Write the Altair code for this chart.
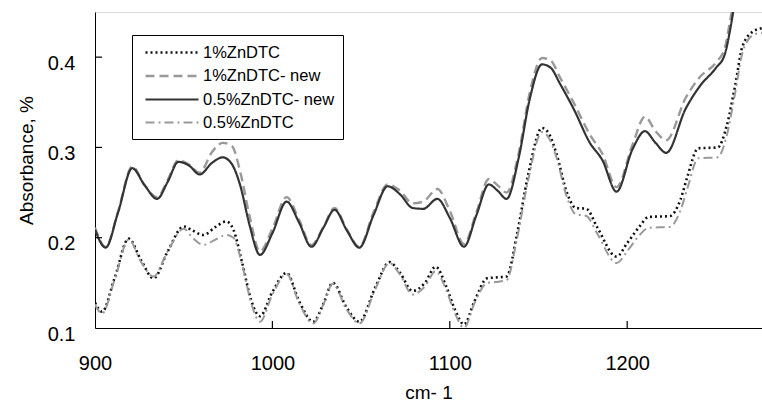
import altair as alt
import pandas as pd

# Upper pair (new samples)
UX = [900, 906, 913, 921, 928, 935, 941, 947, 953, 959, 966, 972, 977, 982, 987, 993,
      1000, 1008, 1015, 1022, 1029, 1035, 1042, 1049, 1057, 1065, 1072, 1079, 1085, 1093,
      1100, 1108, 1115, 1122, 1127, 1132, 1139, 1145, 1152, 1157, 1162, 1170, 1179, 1186,
      1194, 1203, 1210, 1216, 1222, 1233, 1241, 1250, 1255, 1258, 1262]
Y_05_NEW = [0.209, 0.189, 0.228, 0.277, 0.258, 0.243, 0.262, 0.284, 0.280, 0.270, 0.283, 0.289,
            0.282, 0.257, 0.215, 0.181, 0.205, 0.240, 0.217, 0.190, 0.212, 0.231, 0.208, 0.189,
            0.225, 0.257, 0.248, 0.233, 0.232, 0.243, 0.222, 0.190, 0.225, 0.259, 0.252, 0.243,
            0.290, 0.353, 0.392, 0.388, 0.371, 0.342, 0.305, 0.286, 0.251, 0.298, 0.318, 0.305,
            0.294, 0.343, 0.368, 0.388, 0.403, 0.430, 0.480]
Y_1_NEW = [0.211, 0.190, 0.229, 0.279, 0.258, 0.245, 0.264, 0.286, 0.281, 0.272, 0.295, 0.305,
           0.302, 0.272, 0.225, 0.185, 0.210, 0.245, 0.220, 0.192, 0.213, 0.233, 0.209, 0.190,
           0.228, 0.259, 0.252, 0.238, 0.240, 0.254, 0.230, 0.193, 0.228, 0.265, 0.258, 0.250,
           0.295, 0.360, 0.399, 0.396, 0.378, 0.349, 0.314, 0.293, 0.256, 0.303, 0.334, 0.318,
           0.308, 0.355, 0.378, 0.394, 0.410, 0.440, 0.485]

# Lower pair (original samples)
LX = [900, 904, 911, 919, 926, 933, 941, 950, 955, 961, 968, 974, 978, 983, 988, 993,
      1000, 1008, 1015, 1023, 1029, 1034, 1042, 1049, 1058, 1066, 1072, 1079, 1086, 1092,
      1098, 1103, 1108, 1114, 1121, 1126, 1132, 1138, 1144, 1152, 1156, 1160, 1166, 1171,
      1177, 1183, 1194, 1200, 1207, 1212, 1224, 1230, 1234, 1240, 1251, 1256, 1261, 1265,
      1271, 1276]
Y_1 = [0.128, 0.118, 0.155, 0.199, 0.175, 0.155, 0.185, 0.2125, 0.208, 0.203, 0.212, 0.218,
       0.209, 0.172, 0.131, 0.113, 0.140, 0.161, 0.130, 0.107, 0.128, 0.150, 0.122, 0.107,
       0.145, 0.173, 0.161, 0.141, 0.150, 0.168, 0.146, 0.120, 0.104, 0.130, 0.155, 0.156,
       0.157, 0.205, 0.268, 0.3215, 0.315, 0.294, 0.250, 0.233, 0.232, 0.212, 0.179, 0.194,
       0.2125, 0.223, 0.224, 0.242, 0.268, 0.299, 0.300, 0.323, 0.370, 0.412, 0.4285, 0.432]
Y_05 = [0.126, 0.116, 0.153, 0.198, 0.173, 0.157, 0.185, 0.210, 0.200, 0.192, 0.198, 0.203,
        0.200, 0.170, 0.128, 0.107, 0.137, 0.160, 0.128, 0.105, 0.127, 0.149, 0.120, 0.105,
        0.143, 0.172, 0.159, 0.137, 0.146, 0.163, 0.142, 0.116, 0.100, 0.128, 0.150, 0.151,
        0.153, 0.200, 0.262, 0.317, 0.310, 0.290, 0.245, 0.226, 0.224, 0.205, 0.172, 0.185,
        0.203, 0.211, 0.212, 0.230, 0.255, 0.288, 0.289, 0.312, 0.362, 0.405, 0.4245, 0.427]

SERIES = ["1%ZnDTC", "1%ZnDTC- new", "0.5%ZnDTC- new", "0.5%ZnDTC"]
COLORS = ["#111111", "#999999", "#333333", "#999999"]
DASHES = [[2, 3], [9, 5], [1, 0], [9, 4, 2, 4]]
WIDTHS = [2.6, 2.0, 1.5, 2.0]

X_TICKS = [900, 1000, 1100, 1200]
Y_TICKS = [0.1, 0.2, 0.3, 0.4]

rows = []
for name, xs, ys in [(SERIES[0], LX, Y_1), (SERIES[1], UX, Y_1_NEW),
                     (SERIES[2], UX, Y_05_NEW), (SERIES[3], LX, Y_05)]:
    for i, (x, y) in enumerate(zip(xs, ys)):
        rows.append({"wn": x, "abs": y, "series": name, "i": i})
df = pd.DataFrame(rows)

W, H = 667, 316
FONT = "Liberation Sans"

xscale = alt.Scale(domain=[900, 1276], nice=False, zero=False)
yscale = alt.Scale(domain=[0.1, 0.45], nice=False, zero=False)

lines = alt.Chart(df).mark_line(clip=True, interpolate="monotone").encode(
    x=alt.X("wn:Q", scale=xscale,
            axis=alt.Axis(values=X_TICKS, format="d", title="cm- 1", ticks=False, grid=False,
                          labelFontSize=20, labelPadding=25, titleFontSize=19,
                          titlePadding=10, titleFontWeight="normal", labelFont=FONT,
                          titleFont=FONT, domainColor="black", labelColor="black",
                          titleColor="black", labelFlush=False)),
    y=alt.Y("abs:Q", scale=yscale,
            axis=alt.Axis(values=Y_TICKS, format=".1f", title="Absorbance, %", ticks=False,
                          grid=False, labelFontSize=20, labelPadding=20, labelOffset=6,
                          titleFontSize=19, titleFontWeight="normal", labelFont=FONT,
                          titleFont=FONT, titleX=-69, titleY=148, titleBaseline="middle",
                          domainColor="black", labelColor="black", titleColor="black",
                          labelFlush=False)),
    color=alt.Color("series:N", scale=alt.Scale(domain=SERIES, range=COLORS), sort=SERIES,
                    legend=alt.Legend(title=None, orient="none", legendX=37, legendY=23,
                                      symbolType="M-3.3125,0H3.3125", symbolSize=256,
                                      symbolOffset=22.5, symbolStrokeWidth=2,
                                      labelFontSize=16.5, labelFont=FONT,
                                      labelColor="black", strokeColor="black",
                                      fillColor="white", padding=8, rowPadding=5.5,
                                      labelOffset=21.5, cornerRadius=0)),
    strokeDash=alt.StrokeDash("series:N", scale=alt.Scale(domain=SERIES, range=DASHES),
                              sort=SERIES),
    strokeWidth=alt.StrokeWidth("series:N", scale=alt.Scale(domain=SERIES, range=WIDTHS),
                                legend=None),
    order="i:Q",
)

xt = alt.Chart(pd.DataFrame({"t": X_TICKS[1:]})).mark_rule(color="black", strokeWidth=1.2).encode(
    x=alt.X("t:Q", scale=xscale), y=alt.value(H), y2=alt.value(H - 7))
yt = alt.Chart(pd.DataFrame({"t": Y_TICKS[1:]})).mark_rule(color="black", strokeWidth=1.2).encode(
    y=alt.Y("t:Q", scale=yscale), x=alt.value(0), x2=alt.value(7))

chart = alt.layer(lines, xt, yt).properties(
    width=W, height=H,
    autosize=alt.AutoSizeParams(type="none"),
    padding={"left": 95, "top": 12, "right": 0, "bottom": 74},
).configure_view(stroke="black", strokeWidth=1.5).configure(background="white")

chart.save("out.html", embed_options={"renderer": "svg", "actions": False})
